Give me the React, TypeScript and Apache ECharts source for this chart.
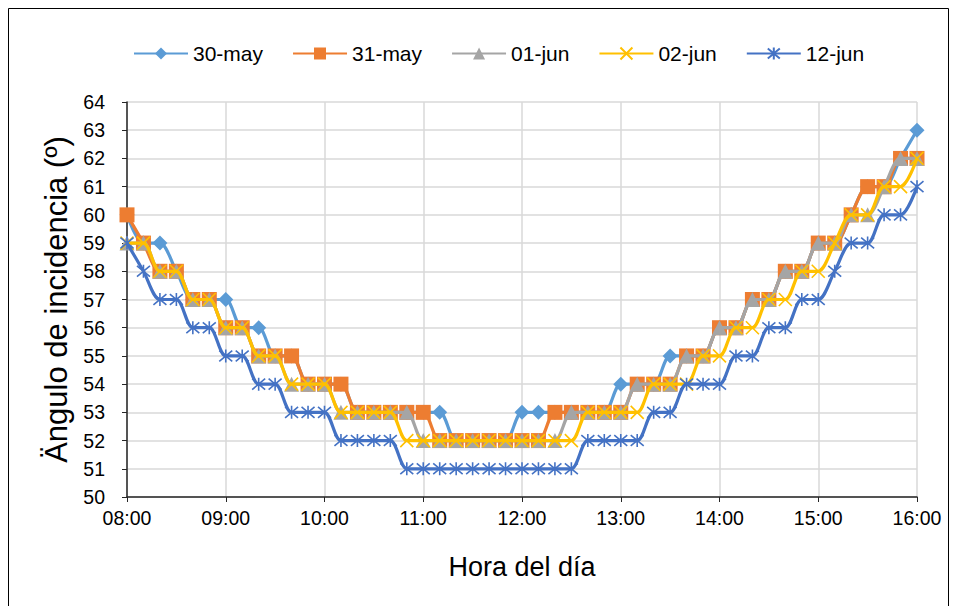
import React, { useEffect, useRef } from "react";
import * as echarts from "echarts";

const times = [
  "08:00", "08:10", "08:20", "08:30", "08:40", "08:50",
  "09:00", "09:10", "09:20", "09:30", "09:40", "09:50",
  "10:00", "10:10", "10:20", "10:30", "10:40", "10:50",
  "11:00", "11:10", "11:20", "11:30", "11:40", "11:50",
  "12:00", "12:10", "12:20", "12:30", "12:40", "12:50",
  "13:00", "13:10", "13:20", "13:30", "13:40", "13:50",
  "14:00", "14:10", "14:20", "14:30", "14:40", "14:50",
  "15:00", "15:10", "15:20", "15:30", "15:40", "15:50",
  "16:00",
];

const may30 = [60, 59, 59, 58, 57, 57, 57, 56, 56, 55, 55, 54, 54, 54, 53, 53, 53, 53, 53, 53, 52, 52, 52, 52, 53, 53, 53, 53, 53, 53, 54, 54, 54, 55, 55, 55, 56, 56, 57, 57, 58, 58, 59, 59, 60, 61, 61, 62, 63];
const may31 = [60, 59, 58, 58, 57, 57, 56, 56, 55, 55, 55, 54, 54, 54, 53, 53, 53, 53, 53, 52, 52, 52, 52, 52, 52, 52, 53, 53, 53, 53, 53, 54, 54, 54, 55, 55, 56, 56, 57, 57, 58, 58, 59, 59, 60, 61, 61, 62, 62];
const jun01 = [59, 59, 58, 58, 57, 57, 56, 56, 55, 55, 54, 54, 54, 53, 53, 53, 53, 53, 52, 52, 52, 52, 52, 52, 52, 52, 52, 53, 53, 53, 53, 54, 54, 54, 55, 55, 56, 56, 57, 57, 58, 58, 59, 59, 60, 60, 61, 62, 62];
const jun02 = [59, 59, 58, 58, 57, 57, 56, 56, 55, 55, 54, 54, 54, 53, 53, 53, 53, 52, 52, 52, 52, 52, 52, 52, 52, 52, 52, 52, 53, 53, 53, 53, 54, 54, 54, 55, 55, 56, 56, 57, 57, 58, 58, 59, 60, 60, 61, 61, 62];
const jun12 = [59, 58, 57, 57, 56, 56, 55, 55, 54, 54, 53, 53, 53, 52, 52, 52, 52, 51, 51, 51, 51, 51, 51, 51, 51, 51, 51, 51, 52, 52, 52, 52, 53, 53, 54, 54, 54, 55, 55, 56, 56, 57, 57, 58, 59, 59, 60, 60, 61];

const seriesNames = ["30-may", "31-may", "01-jun", "02-jun", "12-jun"];
const seriesColors = ["#5B9BD5", "#ED7D31", "#A5A5A5", "#FFC000", "#4472C4"];

const FONT = "'Liberation Sans', Arial, sans-serif";

export default function App() {
  const ref = useRef<HTMLDivElement>(null);
  useEffect(() => {
    if (!ref.current) return;
    const chart = echarts.init(ref.current, null, { renderer: "svg" });
    const datasets = [may30, may31, jun01, jun02, jun12];
    const symbols = [
      "diamond",
      "rect",
      "triangle",
      "path://M0,0L10,10M10,0L0,10",
      "path://M0,0L10,10M10,0L0,10M5,-1L5,11",
    ];
    const sizes = [15, 15, 15, 13, 13];
    const series = datasets.map((d, k) => {
      const stroked = k >= 3;
      return {
        name: seriesNames[k],
        type: "line",
        data: d,
        z: 2 + k,
        smooth: 0.3,
        symbol: symbols[k],
        symbolSize: sizes[k],
        showAllSymbol: true,
        lineStyle: { color: seriesColors[k], width: 3.2 },
        itemStyle: stroked
          ? { color: seriesColors[k], borderColor: seriesColors[k], borderWidth: 1.6 }
          : { color: seriesColors[k], borderWidth: 0 },
        emphasis: { disabled: true },
      };
    });
    chart.setOption({
      animation: false,
      backgroundColor: "#ffffff",
      textStyle: { fontFamily: FONT },
      graphic: [
        {
          type: "rect",
          shape: { x: 8.5, y: 8.5, width: 940, height: 620 },
          style: { fill: "none", stroke: "#000", lineWidth: 1 },
          silent: true,
        },
      ],
      legend: {
        data: seriesNames,
        left: 128,
        top: 38,
        itemWidth: 54,
        itemHeight: 15,
        itemGap: 29,
        textStyle: { fontFamily: FONT, fontSize: 21, color: "#000" },
      },
      grid: { left: 127, right: 40, top: 102, bottom: 109, containLabel: false },
      xAxis: {
        type: "category",
        data: times,
        boundaryGap: false,
        name: "Hora del día",
        nameLocation: "middle",
        nameGap: 56,
        nameTextStyle: { fontFamily: FONT, fontSize: 27, color: "#000" },
        axisLine: { lineStyle: { color: "#262626", width: 1.5 } },
        axisTick: { show: true, interval: 5, length: 5, lineStyle: { color: "#262626" } },
        axisLabel: { interval: 5, margin: 11, fontFamily: FONT, fontSize: 19.5, color: "#000" },
        splitLine: { show: true, interval: 5, lineStyle: { color: "#d9d9d9", width: 1.5 } },
      },
      yAxis: {
        type: "value",
        min: 50,
        max: 64,
        interval: 1,
        name: "Ängulo de incidencia (º)",
        nameLocation: "middle",
        nameGap: 53,
        nameRotate: 90,
        nameTextStyle: { fontFamily: FONT, fontSize: 31, color: "#000" },
        axisLine: { show: true, lineStyle: { color: "#262626", width: 1.5 } },
        axisTick: { show: true, length: 5, lineStyle: { color: "#262626" } },
        axisLabel: { margin: 22, fontFamily: FONT, fontSize: 19.5, color: "#000" },
        splitLine: { show: true, lineStyle: { color: "#d9d9d9", width: 1.5 } },
      },
      series,
    });
    return () => chart.dispose();
  }, []);
  return (
    <div
      ref={ref}
      style={{ position: "fixed", left: 0, top: 0, width: 957, height: 606, background: "#fff" }}
    />
  );
}
